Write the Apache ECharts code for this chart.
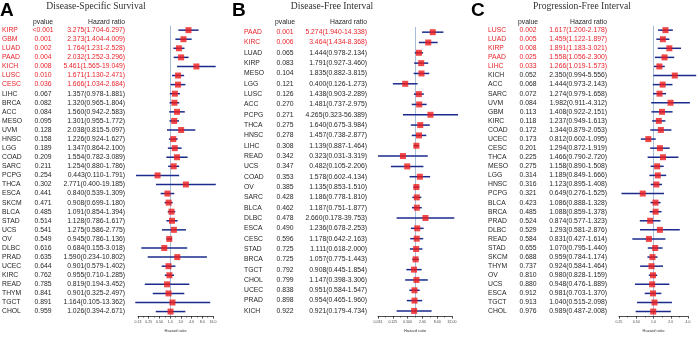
<!DOCTYPE html>
<html>
<head>
<meta charset="utf-8">
<script src="https://cdn.jsdelivr.net/npm/echarts@6/dist/echarts.min.js"></script>
<style>
  html, body { margin: 0; padding: 0; background: #fff; }
  #chart { width: 698px; height: 338px; }
</style>
</head>
<body>
<div id="chart"></div>
<script>
// A: Disease-Specific Survival
const dssNames = ["KIRP", "GBM", "LUAD", "PAAD", "KICH", "LUSC", "CESC", "LIHC", "BRCA", "ACC", "MESO", "UVM", "HNSC", "LGG", "COAD", "SARC", "PCPG", "THCA", "ESCA", "SKCM", "BLCA", "STAD", "UCS", "OV", "DLBC", "PRAD", "UCEC", "KIRC", "READ", "THYM", "TGCT", "CHOL"];
const dssPvalue = ["<0.001", "0.001", "0.002", "0.004", "0.008", "0.010", "0.036", "0.067", "0.082", "0.084", "0.095", "0.128", "0.158", "0.189", "0.209", "0.211", "0.254", "0.302", "0.441", "0.471", "0.485", "0.514", "0.541", "0.549", "0.616", "0.635", "0.644", "0.762", "0.785", "0.841", "0.891", "0.959"];
const dssHr = [3.275, 2.373, 1.764, 2.032, 5.461, 1.671, 1.666, 1.357, 1.320, 1.560, 1.301, 2.038, 1.226, 1.347, 1.554, 1.254, 0.443, 2.771, 0.840, 0.908, 1.091, 1.128, 1.275, 0.945, 0.684, 1.590, 0.901, 0.955, 0.819, 0.901, 1.164, 1.026];
const dssLow = [1.704, 1.404, 1.231, 1.252, 1.565, 1.130, 1.034, 0.978, 0.965, 0.942, 0.955, 0.815, 0.924, 0.864, 0.782, 0.880, 0.110, 0.400, 0.539, 0.699, 0.854, 0.786, 0.586, 0.786, 0.155, 0.234, 0.579, 0.710, 0.194, 0.325, 0.105, 0.394];
const dssHigh = [6.297, 4.009, 2.528, 3.296, 19.049, 2.471, 2.684, 1.881, 1.804, 2.583, 1.772, 5.097, 1.627, 2.100, 3.089, 1.786, 1.791, 19.185, 1.309, 1.180, 1.394, 1.617, 2.775, 1.136, 3.018, 10.802, 1.402, 1.285, 3.452, 2.497, 13.362, 2.671];
const dssSignificant = 7;
const dssTicks = ["0.13", "0.25", "0.50", "1.0", "2.0", "4.0", "8.0", "16.0"];

// B: Disease-Free Interval
const dfiNames = ["PAAD", "KIRC", "LUAD", "KIRP", "MESO", "LGG", "LUSC", "ACC", "PCPG", "THCA", "HNSC", "LIHC", "READ", "UCS", "COAD", "OV", "SARC", "BLCA", "DLBC", "ESCA", "CESC", "STAD", "BRCA", "TGCT", "CHOL", "UCEC", "PRAD", "KICH"];
const dfiPvalue = ["0.001", "0.006", "0.065", "0.083", "0.104", "0.121", "0.126", "0.270", "0.271", "0.275", "0.278", "0.308", "0.342", "0.347", "0.353", "0.385", "0.428", "0.462", "0.478", "0.490", "0.596", "0.725", "0.725", "0.792", "0.799", "0.838", "0.898", "0.922"];
const dfiHr = [5.274, 3.464, 1.444, 1.791, 1.835, 0.400, 1.438, 1.481, 4.265, 1.640, 1.457, 1.139, 0.323, 0.482, 1.578, 1.135, 1.186, 1.187, 2.660, 1.236, 1.178, 1.111, 1.057, 0.908, 1.147, 0.951, 0.954, 0.921];
const dfiLow = [1.940, 1.434, 0.978, 0.927, 0.882, 0.126, 0.903, 0.737, 0.323, 0.675, 0.738, 0.887, 0.031, 0.105, 0.602, 0.853, 0.778, 0.751, 0.178, 0.678, 0.642, 0.618, 0.775, 0.445, 0.398, 0.584, 0.465, 0.179];
const dfiHigh = [14.338, 8.368, 2.134, 3.460, 3.815, 1.273, 2.289, 2.975, 56.389, 3.984, 2.877, 1.464, 3.319, 2.206, 4.134, 1.510, 1.810, 1.877, 39.753, 2.253, 2.163, 2.000, 1.443, 1.854, 3.306, 1.547, 1.960, 4.734];
const dfiSignificant = 2;
const dfiTicks = ["0.031", "0.125", "0.500", "2.00", "8.00", "32.00"];

// C: Progression-Free Interval
const pfiNames = ["LUSC", "LUAD", "KIRP", "PAAD", "LIHC", "KICH", "ACC", "SARC", "UVM", "GBM", "KIRC", "COAD", "UCEC", "CESC", "THCA", "MESO", "LGG", "HNSC", "PCPG", "BLCA", "BRCA", "PRAD", "DLBC", "READ", "STAD", "SKCM", "THYM", "OV", "UCS", "ESCA", "TGCT", "CHOL"];
const pfiPvalue = ["0.002", "0.005", "0.008", "0.025", "0.033", "0.052", "0.068", "0.072", "0.084", "0.113", "0.118", "0.172", "0.173", "0.201", "0.225", "0.275", "0.314", "0.316", "0.321", "0.423", "0.485", "0.524", "0.529", "0.584", "0.655", "0.688", "0.737", "0.810", "0.880", "0.912", "0.913", "0.976"];
const pfiHr = [1.617, 1.459, 1.891, 1.558, 1.266, 2.350, 1.444, 1.274, 1.982, 1.408, 1.237, 1.344, 0.812, 1.294, 1.466, 1.158, 1.189, 1.123, 0.649, 1.086, 1.088, 0.874, 1.293, 0.831, 1.070, 0.959, 0.924, 0.980, 0.948, 0.981, 1.040, 0.989];
const pfiLow = [1.200, 1.122, 1.183, 1.056, 1.019, 0.994, 0.973, 0.979, 0.911, 0.922, 0.949, 0.879, 0.602, 0.872, 0.790, 0.890, 0.849, 0.895, 0.276, 0.888, 0.859, 0.577, 0.581, 0.427, 0.795, 0.784, 0.584, 0.828, 0.476, 0.703, 0.515, 0.487];
const pfiHigh = [2.178, 1.897, 3.021, 2.300, 1.573, 5.556, 2.143, 1.658, 4.312, 2.151, 1.613, 2.053, 1.095, 1.919, 2.720, 1.508, 1.666, 1.408, 1.525, 1.328, 1.378, 1.323, 2.876, 1.614, 1.440, 1.174, 1.464, 1.159, 1.889, 1.370, 2.098, 2.008];
const pfiSignificant = 5;
const pfiTicks = ["0.25", "0.50", "1.0", "2.0", "4.0"];

const RED = "#e8232b";
const INK = "#262626";
const BAR = "#1b2a8c";
const SANS = "Liberation Sans";

// layout per panel; x axis is log2(HR) shifted so the axis starts at 0
const panels = [
  { letter: "A", title: "Disease-Specific Survival", names: dssNames, p: dssPvalue, hr: dssHr, low: dssLow, high: dssHigh,
    sig: dssSignificant, ticks: dssTicks, minExp: -3, span: 7, step: 1,
    left: 138, width: 75, top: 25.6, height: 298.9, letterX: 0, titleX: 96, nameX: 2, pX: 43, hrX: 125 },
  { letter: "B", title: "Disease-Free Interval", names: dfiNames, p: dfiPvalue, hr: dfiHr, low: dfiLow, high: dfiHigh,
    sig: dfiSignificant, ticks: dfiTicks, minExp: -5, span: 10, step: 2,
    left: 378, width: 74, top: 27, height: 297.4, letterX: 232, titleX: 332, nameX: 244, pX: 285, hrX: 367 },
  { letter: "C", title: "Progression-Free Interval", names: pfiNames, p: pfiPvalue, hr: pfiHr, low: pfiLow, high: pfiHigh,
    sig: pfiSignificant, ticks: pfiTicks, minExp: -2, span: 4, step: 1,
    left: 619, width: 69, top: 25.6, height: 298.9, letterX: 471, titleX: 582, nameX: 488, pX: 528, hrX: 607 }
];

const grid = [], xAxis = [], yAxis = [], series = [], graphic = [];

panels.forEach((pn, k) => {
  const toX = v => Math.log2(v) - pn.minExp;

  grid.push({ left: pn.left, top: pn.top, width: pn.width, height: pn.height });
  xAxis.push({
    type: "value", gridIndex: k, min: 0, max: pn.span, interval: pn.step,
    name: "Hazard ratio", nameLocation: "middle", nameGap: 9,
    nameTextStyle: { fontSize: 4, color: "#333", fontFamily: SANS },
    axisLine: { show: true, onZero: false, lineStyle: { color: "#222", width: 0.8 } },
    axisTick: { show: true, length: 2.5, lineStyle: { color: "#222", width: 0.8 } },
    minorTick: { show: true, splitNumber: 2, length: 1.5, lineStyle: { color: "#222", width: 0.6 } },
    axisLabel: {
      fontSize: 3.5, color: "#444", margin: 4, fontFamily: SANS, showMinLabel: true, showMaxLabel: true,
      formatter: v => pn.ticks[Math.round(v / pn.step)]
    },
    splitLine: { show: false }
  });
  yAxis.push({ type: "category", gridIndex: k, inverse: true, data: pn.names, show: false });

  // confidence interval lines
  series.push({
    type: "custom", xAxisIndex: k, yAxisIndex: k, clip: false, z: 2,
    dimensions: ["low", "high", "row"],
    encode: { x: [0, 1], y: 2 },
    data: pn.names.map((n, i) => [toX(pn.low[i]), toX(pn.high[i]), i]),
    renderItem: (params, api) => {
      const a = api.coord([api.value(0), api.value(2)]);
      const b = api.coord([api.value(1), api.value(2)]);
      return { type: "line", shape: { x1: a[0], y1: a[1], x2: b[0], y2: b[1] },
        style: { stroke: BAR, lineWidth: 1.5 } };
    }
  });

  // hazard ratio points + reference line at HR = 1
  series.push({
    type: "scatter", xAxisIndex: k, yAxisIndex: k, z: 3,
    symbol: "rect", symbolSize: 6,
    itemStyle: { color: "#ee1c1c" },
    data: pn.hr.map((v, i) => [toX(v), i]),
    markLine: {
      silent: true, symbol: "none", label: { show: false }, z: 1,
      lineStyle: { color: "#a9bedb", width: 1, type: "solid" },
      data: [{ xAxis: toX(1) }]
    }
  });

  // table columns: name, pvalue, hazard ratio text
  series.push({
    type: "custom", xAxisIndex: k, yAxisIndex: k, clip: false, silent: true,
    dimensions: ["x", "row"],
    encode: { x: 0, y: 1 },
    data: pn.names.map((n, i) => [0, i]),
    renderItem: (params, api) => {
      const i = params.dataIndex;
      const y = api.coord([0, i])[1];
      const fill = i < pn.sig ? RED : INK;
      const font = "6.8px " + SANS;
      const hrText = pn.hr[i].toFixed(3) + "(" + pn.low[i].toFixed(3) + "-" + pn.high[i].toFixed(3) + ")";
      return { type: "group", children: [
        { type: "text", x: pn.nameX, y: y, style: { text: pn.names[i], fill, font, align: "left", verticalAlign: "middle" } },
        { type: "text", x: pn.pX, y: y, style: { text: pn.p[i], fill, font, align: "center", verticalAlign: "middle" } },
        { type: "text", x: pn.hrX, y: y, style: { text: hrText, fill, font, align: "right", verticalAlign: "middle" } }
      ] };
    }
  });

  graphic.push(
    { type: "text", x: pn.letterX, y: 1, style: { text: pn.letter, fill: "#000", font: "bold 19px " + SANS } },
    { type: "text", x: pn.titleX, y: 6, style: { text: pn.title, fill: "#333", font: "9.6px Liberation Serif",
      textAlign: "center", textVerticalAlign: "middle", align: "center", verticalAlign: "middle" } },
    { type: "text", x: pn.pX, y: 22, style: { text: "pvalue", fill: INK, font: "6.8px " + SANS,
      textAlign: "center", textVerticalAlign: "middle", align: "center", verticalAlign: "middle" } },
    { type: "text", x: pn.hrX, y: 22, style: { text: "Hazard ratio", fill: INK, font: "6.8px " + SANS,
      textAlign: "right", textVerticalAlign: "middle", align: "right", verticalAlign: "middle" } }
  );
});

const myChart = echarts.init(document.getElementById("chart"));
myChart.setOption({
  animation: false,
  grid, xAxis, yAxis, series, graphic
});
window.onresize = myChart.resize;
</script>
</body>
</html>
